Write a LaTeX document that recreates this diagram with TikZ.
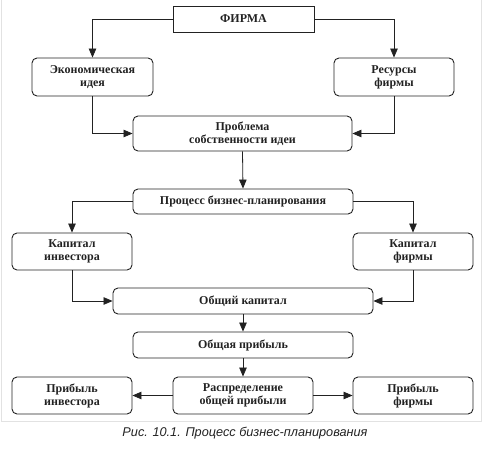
\documentclass[tikz,border=0pt]{standalone}
\usepackage{fontspec}
\setmainfont{Liberation Serif}
\newfontfamily\capfont{Liberation Sans}
\usetikzlibrary{arrows.meta}
\definecolor{ink}{HTML}{222222}
\definecolor{frame}{HTML}{E2E2E2}
\tikzset{
  box/.style={draw=ink, line width=0.9pt, rounded corners=5pt, align=center,
    font=\fontsize{12}{13}\selectfont\bfseries, text=ink, inner sep=0pt},
  sqbox/.style={box, rounded corners=0pt},
  conn/.style={draw=ink, line width=0.8pt, -{Triangle[length=9pt,width=7.5pt]}},
}
\begin{document}
\begin{tikzpicture}[x=1pt,y=-1pt]
\useasboundingbox (0,0) rectangle (483,450);
\draw[frame, line width=1pt] (1,0) -- (1,421) -- (481,421) -- (481,0);

\node[sqbox, minimum width=141pt, minimum height=26pt] (firm) at (243.5,19) {ФИРМА};
\node[box, minimum width=121pt, minimum height=38pt] (eco) at (92.5,77) {Экономическая\\идея};
\node[box, minimum width=120pt, minimum height=38pt] (res) at (394,77) {Ресурсы\\фирмы};
\node[box, minimum width=219pt, minimum height=35pt] (prob) at (242.5,133.5) {Проблема\\собственности идеи};
\node[box, minimum width=220pt, minimum height=25pt] (proc) at (243,201.5) {Процесс бизнес-планирования};
\node[box, minimum width=120pt, minimum height=37pt] (kinv) at (72,251.5) {Капитал\\инвестора};
\node[box, minimum width=120pt, minimum height=37pt] (kfirm) at (413,251.5) {Капитал\\фирмы};
\node[box, minimum width=260pt, minimum height=26pt] (total) at (243,301) {Общий капитал};
\node[box, minimum width=220pt, minimum height=26pt] (profit) at (243,345) {Общая прибыль};
\node[box, minimum width=140pt, minimum height=37pt] (distr) at (243,395.5) {Распределение\\общей прибыли};
\node[box, minimum width=120pt, minimum height=37pt] (pinv) at (72,395.5) {Прибыль\\инвестора};
\node[box, minimum width=120pt, minimum height=37pt] (pfirm) at (413,395.5) {Прибыль\\фирмы};

\draw[conn] (firm.west) -| (eco.north);
\draw[conn] (firm.east) -| (res.north);
\draw[conn] (eco.south) |- (prob.west);
\draw[conn] (res.south) |- (prob.east);
\draw[conn] (prob.south) -- (proc.north);
\draw[conn] (proc.west) -| (kinv.north);
\draw[conn] (proc.east) -| (kfirm.north);
\draw[conn] (kinv.south) |- (total.west);
\draw[conn] (kfirm.south) |- (total.east);
\draw[conn] (total.south) -- (profit.north);
\draw[conn] (profit.south) -- (distr.north);
\draw[conn] (distr.west) -- (pinv.east);
\draw[conn] (distr.east) -- (pfirm.west);

\node[font=\capfont\itshape\fontsize{12.7}{14}\selectfont, text=ink, inner sep=0pt] (cap) at (245,433) {Рис. 10.1. Процесс бизнес-планирования};
\end{tikzpicture}
\end{document}
